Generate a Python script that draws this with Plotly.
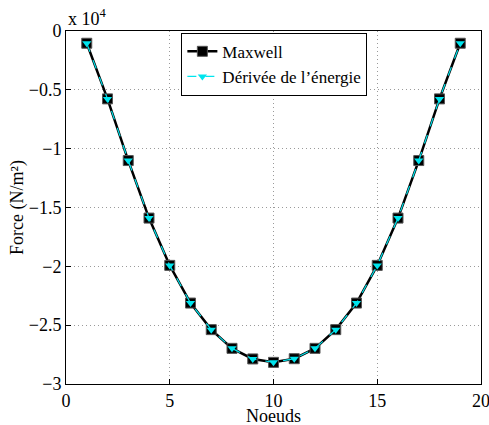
import plotly.graph_objects as go

nodes = list(range(1, 20))
maxwell = [-1040, -5770, -11010, -15900, -19920, -23120, -25380, -26970, -27870, -28160,
           -27850, -26970, -25380, -23120, -19920, -15900, -11010, -5770, -1040]
energie = [-1040, -5770, -11010, -15900, -19920, -23120, -25380, -26970, -27870, -28160,
           -27850, -26970, -25380, -23120, -19920, -15900, -11010, -5770, -1040]

y_tickvals = [-30000, -25000, -20000, -15000, -10000, -5000, 0]
y_ticktext = ["\u22123", "\u22122.5", "\u22122", "\u22121.5", "\u22121", "\u22120.5", "0"]
x_tickvals = [0, 5, 10, 15, 20]

FONT = "Liberation Serif"

fig = go.Figure()
fig.add_trace(go.Scatter(
    x=nodes, y=maxwell, name="Maxwell", mode="lines+markers",
    line=dict(color="black", width=2.5),
    marker=dict(symbol="square", size=10, color="black", line=dict(color="#555", width=1)),
))
fig.add_trace(go.Scatter(
    x=nodes, y=energie, name="Dérivée de l\u2019énergie", mode="lines+markers",
    line=dict(color="#00e5ee", width=1.2, dash="dash"),
    marker=dict(symbol="triangle-down", size=8, color="#00e5ee", line=dict(width=0)),
))

axis_common = dict(
    showline=True, linecolor="black", linewidth=1, mirror=True,
    ticks="inside", ticklen=5, tickcolor="black",
    showgrid=True, gridcolor="#9a9a9a", griddash="1px,3px", gridwidth=1,
    zeroline=False, tickfont=dict(family=FONT, size=18, color="black"),
    automargin=False, ticklabeloverflow="allow",
)

fig.update_layout(
    width=489, height=425,
    margin=dict(l=66, r=8, t=31, b=41),
    paper_bgcolor="white", plot_bgcolor="white",
    font=dict(family=FONT, color="black"),
    showlegend=True,
    legend=dict(
        x=0.278, y=0.995, xanchor="left", yanchor="top",
        bordercolor="black", borderwidth=1, bgcolor="white",
        font=dict(family=FONT, size=17, color="black"),
        tracegroupgap=0, itemwidth=30,
    ),
    xaxis=dict(range=[0, 20], tickvals=x_tickvals, **axis_common),
    yaxis=dict(range=[-30000, 0], tickvals=y_tickvals, ticktext=y_ticktext, **axis_common),
    annotations=[
        dict(text="x 10<sup>4</sup>", xref="paper", yref="paper", x=0.0, y=1.0,
             xanchor="left", yanchor="bottom", showarrow=False,
             font=dict(family=FONT, size=18, color="black")),
        dict(text="Noeuds", xref="paper", yref="paper", x=0.5, y=-0.092,
             xanchor="center", yanchor="middle", showarrow=False,
             font=dict(family=FONT, size=18, color="black")),
        dict(text="Force (N/m²)", xref="paper", yref="paper", x=-0.117, y=0.5,
             xanchor="center", yanchor="middle", textangle=-90, showarrow=False,
             font=dict(family=FONT, size=18, color="black")),
    ],
)

fig.write_html("out.html", config={"displayModeBar": False},
               post_script="document.body.style.margin='0';document.body.style.overflow='hidden';")
